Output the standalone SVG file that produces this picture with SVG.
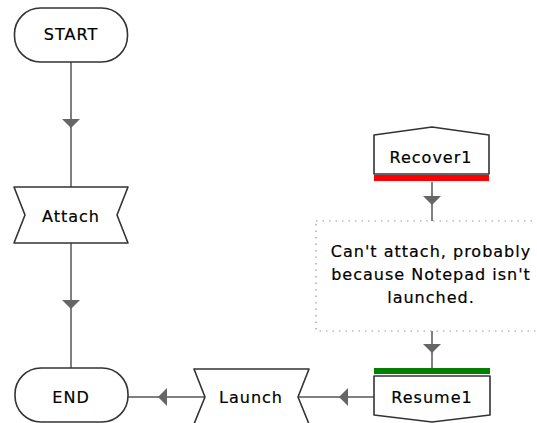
<svg xmlns="http://www.w3.org/2000/svg" width="537" height="423" viewBox="0 0 537 423">
  <style>
    .shape { fill: #ffffff; stroke: #333333; stroke-width: 1.6; stroke-linejoin: round; }
    .label { font-family: "DejaVu Sans", "Liberation Sans", sans-serif; font-size: 16px; letter-spacing: 1px; fill: #000000; stroke: #000000; stroke-width: 0.2; text-anchor: middle; }
    .wire { stroke: #808080; stroke-width: 2; fill: none; }
    .head { fill: #666666; }
    .note { fill: #ffffff; stroke: #999999; stroke-width: 1.2; stroke-dasharray: 1.5 5; }
  </style>
  <rect width="537" height="423" fill="#ffffff"/>

  <!-- connectors -->
  <g id="connectors">
    <line class="wire" x1="71" y1="62" x2="71" y2="187"/>
    <polygon class="head" points="62,119 80,119 71,128"/>
    <line class="wire" x1="71" y1="243" x2="71" y2="368"/>
    <polygon class="head" points="62,300 80,300 71,309"/>
    <line class="wire" x1="432" y1="182" x2="432" y2="221"/>
    <polygon class="head" points="423,196 441,196 432,205"/>
    <line class="wire" x1="432" y1="331" x2="432" y2="368"/>
    <polygon class="head" points="423,344 441,344 432,353"/>
    <line class="wire" x1="374" y1="397" x2="297" y2="397"/>
    <polygon class="head" points="348,388 348,406 339,397"/>
    <line class="wire" x1="205" y1="397" x2="128" y2="397"/>
    <polygon class="head" points="167,388 167,406 158,397"/>
  </g>

  <g id="start">
    <rect class="shape" x="14.5" y="8" width="113" height="54" rx="26" ry="26"/>
    <text class="label" x="71" y="40">START</text>
  </g>

  <g id="attach">
    <polygon class="shape" points="14,187 128,187 117,215 128,243 14,243 25,215"/>
    <text class="label" x="71" y="222">Attach</text>
  </g>

  <g id="end">
    <rect class="shape" x="15" y="368" width="113" height="54" rx="26" ry="26"/>
    <text class="label" x="71" y="403">END</text>
  </g>

  <g id="launch">
    <polygon class="shape" points="194,369 309,369 298,397 309,424 194,424 205,397"/>
    <text class="label" x="251" y="403">Launch</text>
  </g>

  <g id="recover1">
    <path class="shape" d="M374,135 L432,127 L489,135 L489,174 L374,174 Z"/>
    <rect x="374" y="175" width="115" height="6" fill="#ff0000"/>
    <text class="label" x="431" y="163">Recover1</text>
  </g>

  <g id="note">
    <rect class="note" x="316" y="221" width="240" height="110"/>
    <text class="label" x="431" y="257">Can't attach, probably</text>
    <text class="label" x="431" y="280">because Notepad isn't</text>
    <text class="label" x="431" y="303">launched.</text>
  </g>

  <g id="resume1">
    <rect x="374" y="368" width="116" height="6" fill="#008000"/>
    <path class="shape" d="M374,376 L490,376 L490,415 L432,422 L374,415 Z"/>
    <text class="label" x="432" y="403">Resume1</text>
  </g>
</svg>
